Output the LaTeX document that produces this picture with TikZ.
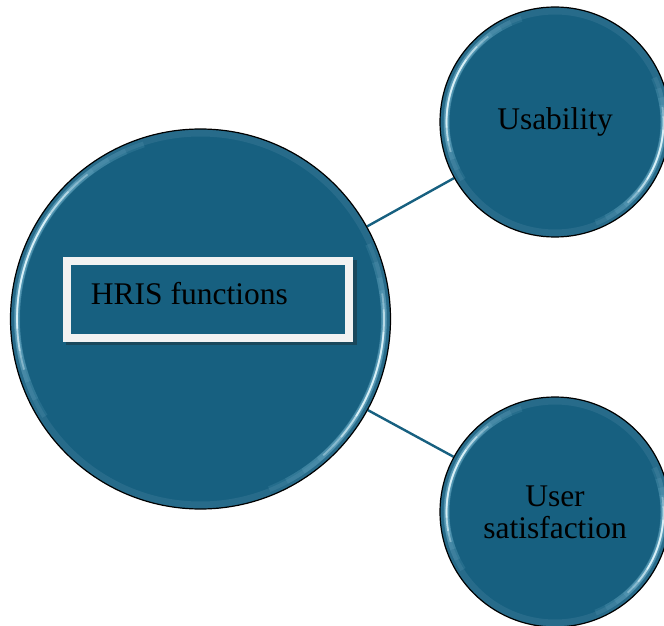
\documentclass[tikz,border=0pt]{standalone}
\usepackage{fontspec}
\setmainfont{Liberation Serif}
\usetikzlibrary{calc}
\definecolor{teal1}{RGB}{23,96,128}
\definecolor{bevel}{RGB}{70,130,158}
\definecolor{shine}{RGB}{225,246,252}
\definecolor{glow}{RGB}{120,185,210}
\definecolor{boxrim}{RGB}{242,242,242}
\definecolor{boxshadow}{RGB}{26,72,92}
\newcommand{\glossring}[2]{%
  \draw[bevel, line width=7pt, opacity=0.35] (#1.center) circle[radius=#2-4];
  \foreach \a/\b/\w/\o in {108/212/6/0.15, 114/206/6/0.15, 120/200/5.5/0.18, 126/196/5/0.2, 132/192/4/0.25,
                           -68/24/6/0.15, -62/18/6/0.15, -56/13/5.5/0.18, -50/9/5/0.2, -44/5/4/0.25}{%
    \draw[glow, line width=\w pt, opacity=\o]
      ($(#1.center)+(\a:#2-6.5)$) arc[start angle=\a, end angle=\b, radius=#2-6.5];
  }%
  \foreach \a/\b/\w/\o in {128/196/1.8/0.35, 136/190/1.8/0.5, 145/183/1.6/0.8,
                           -48/8/1.8/0.35, -40/3/1.8/0.5, -32/-4/1.6/0.8}{%
    \draw[shine, line width=\w pt, opacity=\o]
      ($(#1.center)+(\a:#2-6.5)$) arc[start angle=\a, end angle=\b, radius=#2-6.5];
  }%
  \draw[black, line width=1.2pt] (#1.center) circle[radius=#2];
}
\tikzset{
  bubble/.style={circle, fill=teal1, inner sep=0pt, outer sep=0.6pt,
    font=\fontsize{31.5}{32}\selectfont, align=center, text=black},
  link/.style={draw=teal1, line width=2.4pt},
}
\begin{document}
\begin{tikzpicture}[x=1pt,y=1pt]
\useasboundingbox (0,0) rectangle (664,625);
\node[bubble, minimum size=380pt] (big) at (200.5,306) {};
\node[bubble, minimum size=230pt] (use) at (555,503) {};
\node[bubble, minimum size=230pt] (sat) at (555,113) {};
\draw[link] (big) -- (use);
\draw[link] (big) -- (sat);
\glossring{big}{190}
\glossring{use}{115}
\glossring{sat}{115}
\node[font=\fontsize{31.5}{32}\selectfont, align=center] (uset) at (use.center) {Usability};
\node[font=\fontsize{31.5}{32}\selectfont, align=center] (satt) at (sat.center) {User\\satisfaction};
% text box
\fill[boxshadow] (66,280) rectangle (357,365);
\fill[boxrim] (63,283) rectangle (353,368);
\fill[teal1] (71,291) rectangle (345,360);
\node[anchor=base west, inner sep=0pt, font=\fontsize{31.5}{32}\selectfont] (hris) at (90.7,321) {HRIS functions};
\end{tikzpicture}
\end{document}
